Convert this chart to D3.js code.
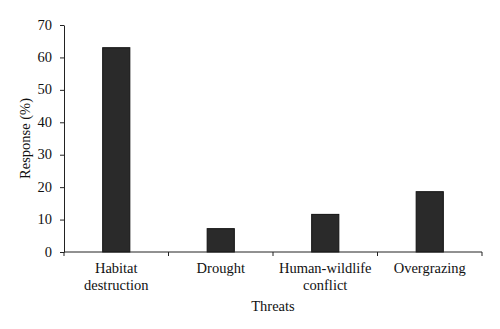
<!DOCTYPE html>
<html>
<head>
<meta charset="utf-8">
<script src="https://cdn.jsdelivr.net/npm/d3@7"></script>
<style>
  body { margin: 0; background: #fff; }
  svg text { font-family: "Liberation Serif", "DejaVu Serif", serif; fill: #111; }
</style>
</head>
<body>
<div id="chart"></div>
<script>
// data
var categories = ["Habitat destruction", "Drought", "Human-wildlife conflict", "Overgrazing"];
var categoryLines = [["Habitat", "destruction"], ["Drought"], ["Human-wildlife", "conflict"], ["Overgrazing"]];
var responses = [63.0, 7.2, 11.6, 18.6];
var yTicks = [0, 10, 20, 30, 40, 50, 60, 70];

var width = 500, height = 329;
var margin = { top: 25, right: 18, bottom: 77, left: 64 };
var fontSize = '14.5px';

var svg = d3.select('#chart').append('svg')
  .attr('width', width)
  .attr('height', height);

var x = d3.scaleBand()
  .domain(categories)
  .range([margin.left, width - margin.right])
  .paddingInner(0.74)
  .paddingOuter(0.37);

var y = d3.scaleLinear()
  .domain([0, 70])
  .range([height - margin.bottom, margin.top]);

// bars
svg.append('g').selectAll('rect')
  .data(responses)
  .enter().append('rect')
  .attr('x', function (d, i) { return x(categories[i]); })
  .attr('y', function (d) { return y(d); })
  .attr('width', x.bandwidth())
  .attr('height', function (d) { return y(0) - y(d); })
  .attr('fill', '#2a2a2a')
  .attr('stroke', '#111')
  .attr('stroke-width', 1);

// y axis
var yAxis = svg.append('g')
  .attr('transform', 'translate(' + margin.left + ',0)')
  .call(d3.axisLeft(y).tickValues(yTicks).tickSize(4).tickSizeOuter(0).tickPadding(8));
yAxis.selectAll('text').style('font-size', fontSize).attr('dy', '0.28em');
yAxis.selectAll('path, line').attr('stroke', '#222');

// x axis: ticks sit on the band boundaries
var boundaries = d3.range(categories.length + 1).map(function (i) {
  return margin.left + i * (width - margin.right - margin.left) / categories.length;
});
var xAxis = svg.append('g')
  .attr('transform', 'translate(0,' + y(0) + ')');
xAxis.append('line')
  .attr('x1', margin.left).attr('x2', width - margin.right)
  .attr('stroke', '#222');
xAxis.selectAll('line.tick')
  .data(boundaries)
  .enter().append('line')
  .attr('class', 'tick')
  .attr('x1', function (d) { return d; }).attr('x2', function (d) { return d; })
  .attr('y1', 0).attr('y2', 4)
  .attr('stroke', '#222');

xAxis.selectAll('text.cat')
  .data(categories)
  .enter().append('text')
  .attr('class', 'cat')
  .attr('text-anchor', 'middle')
  .style('font-size', fontSize)
  .attr('transform', function (d) { return 'translate(' + (x(d) + x.bandwidth() / 2) + ',20.5)'; })
  .each(function (d, i) {
    var t = d3.select(this);
    categoryLines[i].forEach(function (line, j) {
      t.append('tspan').attr('x', 0).attr('y', j * 17.7).text(line);
    });
  });

// axis titles
svg.append('text')
  .attr('x', (margin.left + width - margin.right) / 2)
  .attr('y', 311)
  .attr('text-anchor', 'middle')
  .style('font-size', fontSize)
  .text('Threats');

svg.append('text')
  .attr('transform', 'translate(30,' + ((y(0) + y(70)) / 2) + ') rotate(-90)')
  .attr('text-anchor', 'middle')
  .style('font-size', fontSize)
  .text('Response (%)');
</script>
</body>
</html>
